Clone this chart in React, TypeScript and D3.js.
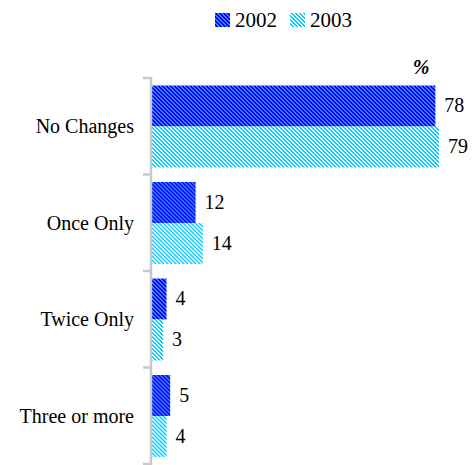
import React, { useEffect, useRef } from "react";
import * as d3 from "d3";

const categories = ["No Changes", "Once Only", "Twice Only", "Three or more"];
const seriesNames = ["2002", "2003"];
const values2002 = [78, 12, 4, 5];
const values2003 = [79, 14, 3, 4];

export default function App() {
  const ref = useRef<SVGSVGElement>(null);

  useEffect(() => {
    const svg = d3.select(ref.current);
    svg.selectAll("*").remove();
    const font = "'Liberation Serif', 'Times New Roman', serif";

    // patterns for the two series
    const defs = svg.append("defs");
    const makePattern = (id: string, bg: string, fg: string) => {
      const p = defs
        .append("pattern")
        .attr("id", id)
        .attr("patternUnits", "userSpaceOnUse")
        .attr("width", 4)
        .attr("height", 4);
      p.append("rect").attr("width", 4).attr("height", 4).attr("fill", bg);
      for (let r = 0; r < 4; r++) {
        p.append("rect").attr("x", r).attr("y", r).attr("width", 1).attr("height", 1).attr("fill", fg);
        p.append("rect").attr("x", (r + 1) % 4).attr("y", r).attr("width", 1).attr("height", 1).attr("fill", fg);
      }
    };
    makePattern("pat2002", "#0000ff", "#3f7fff");
    makePattern("pat2003", "#00ccff", "#ffffff");
    const fills = ["url(#pat2002)", "url(#pat2003)"];

    const left = 152;
    const x = d3.scaleLinear().domain([0, 79]).range([left, 439]);
    const y0 = d3.scaleBand<string>().domain(categories).range([78, 464]);
    const y1 = d3.scaleBand<string>().domain(seriesNames).range([7.5, 89.5]);

    const data = categories.map((c, i) => ({ cat: c, vals: [values2002[i], values2003[i]] }));

    // bars
    const groups = svg
      .selectAll("g.cat")
      .data(data)
      .enter()
      .append("g")
      .attr("transform", (d) => `translate(0,${y0(d.cat)})`);

    groups
      .selectAll("rect")
      .data((d) => d.vals.map((v, j) => ({ v, s: seriesNames[j], j })))
      .enter()
      .append("rect")
      .attr("x", left)
      .attr("y", (d) => y1(d.s)!)
      .attr("width", (d) => x(d.v) - left)
      .attr("height", y1.bandwidth())
      .attr("fill", (d) => fills[d.j]);

    groups
      .selectAll("text.val")
      .data((d) => d.vals.map((v, j) => ({ v, s: seriesNames[j] })))
      .enter()
      .append("text")
      .attr("class", "val")
      .attr("x", (d) => x(d.v) + 9)
      .attr("y", (d) => y1(d.s)! + y1.bandwidth() / 2 - 1)
      .attr("dy", "0.35em")
      .style("font-family", font)
      .style("font-size", "20px")
      .text((d) => d.v);

    // category labels
    svg
      .selectAll("text.cat")
      .data(categories)
      .enter()
      .append("text")
      .attr("x", 134)
      .attr("y", (d) => y0(d)! + y0.bandwidth() / 2)
      .attr("dy", "0.35em")
      .attr("text-anchor", "end")
      .style("font-family", font)
      .style("font-size", "20px")
      .text((d) => d);

    // axis line and ticks
    const axisColor = "#c8c8c8";
    svg
      .append("line")
      .attr("x1", 151)
      .attr("x2", 151)
      .attr("y1", 77)
      .attr("y2", 465)
      .attr("stroke", axisColor)
      .attr("stroke-width", 2.5);
    const tickYs = categories.map((c) => y0(c)!).concat([464]);
    svg
      .selectAll("line.tick")
      .data(tickYs)
      .enter()
      .append("line")
      .attr("x1", 143)
      .attr("x2", 151)
      .attr("y1", (d) => d)
      .attr("y2", (d) => d)
      .attr("stroke", axisColor)
      .attr("stroke-width", 2.5);

    // percent sign
    svg
      .append("text")
      .attr("x", 421)
      .attr("y", 74)
      .attr("text-anchor", "middle")
      .style("font-family", font)
      .style("font-size", "20px")
      .style("font-weight", "bold")
      .style("font-style", "italic")
      .text("%");

    // legend
    const legendX = [215, 290];
    seriesNames.forEach((s, i) => {
      svg
        .append("rect")
        .attr("x", legendX[i])
        .attr("y", 13)
        .attr("width", 15)
        .attr("height", 14)
        .attr("fill", fills[i]);
      svg
        .append("text")
        .attr("x", legendX[i] + 20)
        .attr("y", 27)
        .style("font-family", font)
        .style("font-size", "21px")
        .text(s);
    });
  }, []);

  return (
    <svg
      ref={ref}
      width={472}
      height={465}
      style={{ position: "absolute", left: 0, top: 0, background: "#fff" }}
    />
  );
}
